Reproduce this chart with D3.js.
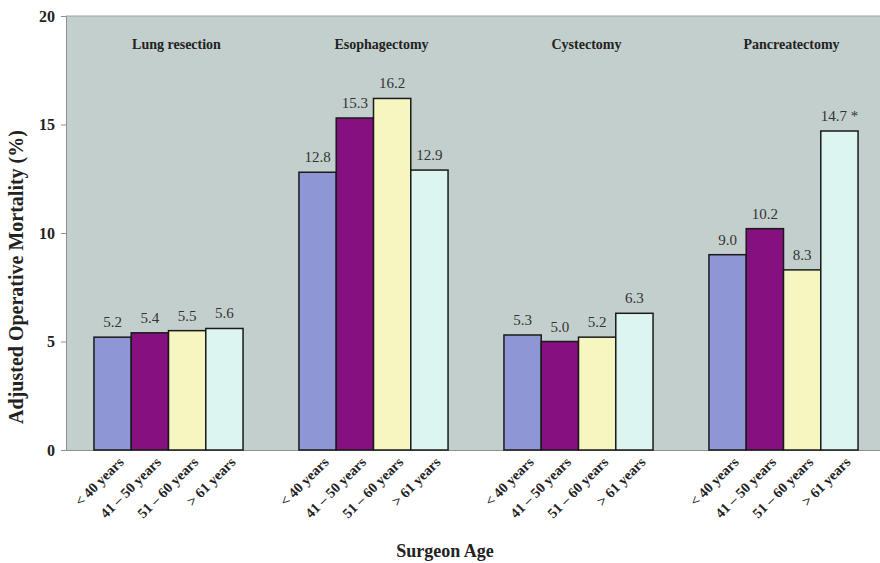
<!DOCTYPE html>
<html><head><meta charset="utf-8">
<script src="https://cdn.jsdelivr.net/npm/d3@7"></script>
<style>body{margin:0;background:#fff}svg{display:block}</style>
</head><body><svg width="880" height="563"></svg>
<script>
const procedures = ["Lung resection","Esophagectomy","Cystectomy","Pancreatectomy"];
const ageGroups = ["< 40 years","41 – 50 years","51 – 60 years","> 61 years"];
const mortality = [
  [5.2,5.4,5.5,5.6],
  [12.8,15.3,16.2,12.9],
  [5.3,5.0,5.2,6.3],
  [9.0,10.2,8.3,14.7]
];
const valueLabels = [
  ["5.2","5.4","5.5","5.6"],
  ["12.8","15.3","16.2","12.9"],
  ["5.3","5.0","5.2","6.3"],
  ["9.0","10.2","8.3","14.7 *"]
];
const yTicks = [0,5,10,15,20];
const colors = ["#8e96d5","#85107f","#f6f6c1","#dcf5f1"];

const FONT = '"Liberation Serif"';
const svg = d3.select("svg");
const M = {l:66, t:16, r:886, b:450};
const x0 = d3.scaleBand().domain(procedures).range([M.l, M.r]).padding(0);
const x1 = d3.scaleBand().domain(ageGroups).range([0, x0.bandwidth()]).paddingInner(0).paddingOuter(0.75);
const y = d3.scaleLinear().domain([0,20]).range([M.b, M.t]);

svg.append("rect").attr("x",M.l).attr("y",M.t).attr("width",880-M.l).attr("height",M.b-M.t).attr("fill","#c3cfcc");
svg.append("line").attr("x1",M.l).attr("x2",880).attr("y1",M.t).attr("y2",M.t).attr("stroke","#9aa6a3").attr("stroke-width",1);

const yAxis = svg.append("g").attr("transform",`translate(${M.l},0)`)
  .call(d3.axisLeft(y).tickValues(yTicks).tickSize(5).tickPadding(6).tickFormat(d3.format("d")));
yAxis.select(".domain").attr("stroke","#8a9290");
yAxis.selectAll(".tick line").attr("stroke","#8a9290");
yAxis.selectAll("text").style("font-family",FONT).attr("font-weight","bold").attr("font-size",16).attr("fill","#222");

svg.append("line").attr("x1",M.l).attr("x2",880).attr("y1",M.b+0.5).attr("y2",M.b+0.5).attr("stroke","#8a9290");

const groups = svg.selectAll("g.grp").data(procedures).join("g").attr("class","grp")
  .attr("transform",d=>`translate(${x0(d)},0)`);

groups.selectAll("rect").data((d,i)=>mortality[i].map((v,j)=>({v,j}))).join("rect")
  .attr("x",d=>x1(ageGroups[d.j])).attr("width",x1.bandwidth())
  .attr("y",d=>y(d.v)).attr("height",d=>y(0)-y(d.v))
  .attr("fill",d=>colors[d.j]).attr("stroke","#1a1a1a").attr("stroke-width",1.5);

groups.selectAll("text.val").data((d,i)=>mortality[i].map((v,j)=>({v,j,l:valueLabels[i][j]}))).join("text").attr("class","val")
  .attr("x",d=>x1(ageGroups[d.j])+x1.bandwidth()/2).attr("y",d=>y(d.v)-10)
  .attr("text-anchor","middle").style("font-family",FONT).attr("font-size",15).attr("fill","#333")
  .text(d=>d.l);

groups.append("text").attr("x",x0.bandwidth()/2+8).attr("y",49)
  .attr("text-anchor","middle").style("font-family",FONT).attr("font-weight","bold").attr("font-size",14).attr("fill","#222")
  .text(d=>d);

groups.selectAll("text.tick").data(ageGroups).join("text").attr("class","tick")
  .attr("transform",d=>`translate(${x1(d)+x1.bandwidth()/2+12},${M.b+13}) rotate(-45)`)
  .attr("text-anchor","end").style("font-family",FONT).attr("font-weight","bold").attr("font-size",14.3).attr("fill","#222")
  .text(d=>d);

svg.append("text").attr("transform",`translate(23,${(M.t+M.b)/2 + 44}) rotate(-90)`)
  .attr("text-anchor","middle").style("font-family",FONT).attr("font-weight","bold").attr("font-size",20).attr("fill","#222")
  .text("Adjusted Operative Mortality (%)");

svg.append("text").attr("x",445).attr("y",557)
  .attr("text-anchor","middle").style("font-family",FONT).attr("font-weight","bold").attr("font-size",18).attr("fill","#222")
  .text("Surgeon Age");
</script></body></html>
